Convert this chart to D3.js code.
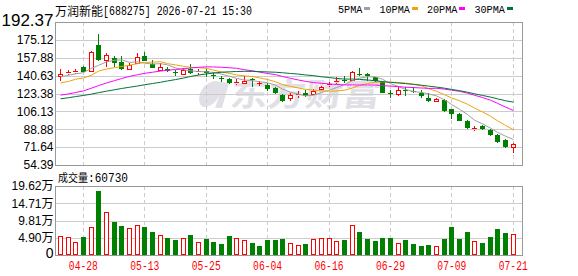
<!DOCTYPE html>
<html>
<head>
<meta charset="utf-8">
<script src="https://cdn.jsdelivr.net/npm/d3@7"></script>
<style>
  body { margin: 0; background: #fff; }
  svg { display: block; }
</style>
</head>
<body>
<div id="chart"></div>
<script>
const width = 578
const height = 276

// --- Data ---
const stockName = "万润新能"
const stockInfo = "[688275] 2026-07-21 15:30"
const volumeLabel = "成交量"
const lastVolume = "60730"

const dates = ["04-23","04-24","04-27","04-28","04-29","04-30","05-06","05-07","05-08","05-11",
  "05-12","05-13","05-14","05-15","05-18","05-19","05-20","05-21","05-22","05-25",
  "05-26","05-27","05-28","05-29","06-01","06-02","06-03","06-04","06-05","06-08",
  "06-09","06-10","06-11","06-12","06-15","06-16","06-17","06-18","06-22","06-23",
  "06-24","06-25","06-26","06-29","06-30","07-01","07-02","07-03","07-06","07-07",
  "07-08","07-09","07-10","07-13","07-14","07-15","07-16","07-17","07-20","07-21"]

const opens = [140.0,143.6,144.6,148.9,144.8,170.3,156.0,157.2,153.7,147.3,
  153.1,159.8,151.8,146.4,147.0,144.0,142.2,146.7,144.6,145.4,
  141.6,138.4,137.8,133.6,133.6,137.4,133.6,132.0,128.8,121.5,
  119.5,122.1,123.4,123.1,127.8,131.7,134.2,136.5,136.8,142.2,
  142.5,139.0,134.9,124.3,123.1,127.2,125.6,123.7,118.9,116.0,
  116.7,108.0,103.3,96.6,89.5,92.1,88.6,83.1,78.3,71.9]
const highs = [146.7,146.1,147.0,149.6,164.6,180.6,162.4,159.8,159.8,152.5,
  162.4,163.9,155.6,152.5,149.2,146.1,147.7,151.8,146.7,147.3,
  143.8,140.6,138.4,137.4,140.0,138.1,135.8,133.6,129.8,122.7,
  124.0,125.6,126.9,127.8,130.7,134.9,139.7,140.3,145.4,147.7,
  143.2,139.7,135.8,126.9,129.4,129.4,130.1,126.3,123.7,118.9,
  118.3,108.7,104.9,98.2,91.8,92.7,89.5,84.4,79.3,75.5]
const lows = [135.2,141.3,142.2,143.8,143.8,154.4,148.6,148.6,146.1,146.7,
  152.5,154.4,147.7,145.4,144.2,140.3,141.6,142.2,141.0,139.7,
  137.4,134.9,133.0,132.0,132.6,130.1,131.0,125.9,122.7,115.1,
  115.7,118.6,119.9,121.8,126.3,129.4,132.6,133.6,136.5,140.6,
  135.8,134.6,123.4,119.2,120.8,120.8,123.7,119.2,115.4,115.1,
  105.5,99.1,96.6,88.9,87.0,87.9,82.2,76.1,70.7,66.2]
const closes = [142.2,143.9,144.9,144.5,163.6,155.6,160.8,152.8,146.7,150.9,
  158.2,155.0,148.3,148.6,144.8,143.8,146.4,142.9,144.9,143.5,
  140.7,137.8,133.3,134.6,135.8,136.8,133.6,127.8,123.4,116.4,
  122.1,123.1,120.8,125.9,130.1,132.9,135.8,135.5,144.5,141.6,
  140.0,135.2,124.0,123.7,127.2,126.3,125.0,120.5,116.0,117.9,
  106.4,103.6,97.2,90.2,90.5,88.9,83.1,76.7,71.6,74.5]
// volume in 万 (10k)
const volumes = [5.31,5.02,3.70,5.12,7.96,18.2,12.23,9.38,8.25,7.58,
  8.44,7.96,6.54,5.59,4.83,4.27,4.74,5.69,3.70,4.55,
  3.70,3.13,5.40,4.74,4.27,3.41,2.56,4.27,4.27,4.55,
  3.41,2.75,3.13,4.45,4.74,4.74,3.98,4.27,8.44,6.54,
  4.55,3.98,4.83,4.74,3.32,4.27,3.13,2.56,2.84,2.46,
  4.55,7.96,4.55,6.54,3.98,3.41,5.12,7.39,6.26,6.073]

const ma5 = [139.5,141.0,142.3,143.5,147.8,150.5,153.9,155.5,155.9,153.4,
  153.9,152.7,151.8,152.2,151.0,148.1,146.4,145.3,144.6,144.3,
  143.7,142.0,140.0,138.0,136.4,135.7,134.8,133.7,131.5,127.6,
  124.7,122.6,121.2,121.7,124.4,126.6,129.1,132.0,135.8,138.1,
  139.5,139.4,137.1,132.9,130.0,127.3,125.2,124.5,123.0,121.1,
  117.2,112.9,108.2,103.1,97.6,94.1,90.0,85.9,82.2,79.0]
const ma10 = [133.6,135.0,137.1,138.4,141.0,145.0,147.0,148.3,149.4,150.6,
  152.2,153.3,153.6,154.1,152.2,151.0,149.6,148.6,148.4,147.6,
  145.9,144.2,142.7,141.3,140.4,139.7,138.4,136.9,134.7,132.0,
  130.2,128.7,127.4,126.6,126.0,125.6,125.8,126.6,128.7,131.2,
  133.0,134.2,134.6,134.3,134.0,133.4,132.3,130.8,128.0,125.6,
  122.2,119.1,116.4,113.0,109.4,105.6,101.4,97.1,92.6,88.3]
const ma20 = [121.8,123.0,124.3,125.9,128.5,131.0,133.5,135.8,137.8,139.9,
  141.5,142.8,143.9,145.0,145.8,146.5,147.3,148.0,148.6,149.1,
  149.0,148.7,148.2,147.7,146.3,145.3,144.0,142.7,141.6,139.8,
  138.0,136.4,135.1,133.9,133.2,132.6,132.1,131.7,131.7,131.6,
  131.6,131.5,131.0,130.5,130.0,129.5,129.1,128.7,128.3,128.4,
  127.6,126.6,125.5,123.7,121.7,119.5,116.9,113.9,110.3,106.9]
const ma30 = [118.3,119.3,120.4,121.5,122.8,124.2,125.6,127.0,128.2,129.4,
  130.6,131.8,133.0,134.2,135.5,136.8,138.3,139.8,141.2,142.3,
  143.1,143.9,144.3,144.6,144.8,144.7,144.5,144.2,143.9,143.4,
  142.7,142.1,141.3,140.6,139.5,138.8,137.9,137.3,137.3,137.0,
  136.4,135.7,134.9,134.1,133.5,132.9,132.2,131.4,130.5,129.6,
  128.5,127.3,126.1,124.6,123.1,121.5,119.9,118.2,116.4,115.0]

const priceTicks = [54.39,71.64,88.88,106.13,123.38,140.63,157.88,175.12,192.37]
const volTicks = [0,4.90,9.81,14.71,19.62]
const xTickDates = ["04-28","05-13","05-25","06-04","06-16","06-29","07-09","07-21"]
const maNames = ["5PMA","10PMA","20PMA","30PMA"]
const maSeries = [ma5, ma10, ma20, ma30]

// --- Styles ---
const maColors = ["#a0a0a0","#f2a20c","#ff00ff","#00733a"]
const upColor = "#ff0000"
const downColor = "#008000"
const gridColor = "#cccccc"
const frameColor = "#999999"
const monoFont = "'Liberation Mono', 'DejaVu Sans Mono', monospace"
const labelFont = "'Liberation Sans', 'Noto Sans CJK SC', sans-serif"

// --- Layout ---
const left = 55.5, right = 522.5
const priceTop = 22, priceBottom = 165
const volTop = 186, volBottom = 255

const svg = d3.select("#chart")
  .append("svg")
    .attr("width", width)
    .attr("height", height)

// Scales
const x = d3.scaleBand()
  .domain(d3.range(dates.length))
  .range([56.5, 517.1])

const yPrice = d3.scaleLinear()
  .domain([priceTicks[0], priceTicks[priceTicks.length - 1]])
  .range([priceBottom, priceTop])

const yVol = d3.scaleLinear()
  .domain([0, volTicks[volTicks.length - 1]])
  .range([volBottom, volTop])

const bodyLeft = i => Math.round(x(i) + x.bandwidth() / 2 - 2.5)
const centerX = i => bodyLeft(i) + 2.5
const tickIdx = xTickDates.map(d => dates.indexOf(d))

// Watermark
const wm = svg.append("g").attr("fill", "#e0e0e6")
wm.append("path")
  .attr("d", "M215,81 C203,83 197,95 200,104 C203,110 213,106 218,98 L221,91 L215,108 L222,108 L229,83 Z")
wm.append("text")
  .attr("x", 229).attr("y", 106)
  .attr("font-family", "'Noto Sans CJK SC', sans-serif")
  .attr("font-weight", "bold")
  .attr("font-size", 32)
  .attr("textLength", 150)
  .attr("lengthAdjust", "spacingAndGlyphs")
  .attr("transform", "skewX(-8) translate(15,0)")
  .text("东方财富")

// Grids (horizontal)
const drawHGrid = (scale, ticks) => {
  svg.append("g")
    .selectAll("line")
    .data(ticks.slice(1, -1))
    .join("line")
      .attr("x1", left).attr("x2", right)
      .attr("y1", d => Math.round(scale(d)) + 0.5)
      .attr("y2", d => Math.round(scale(d)) + 0.5)
      .attr("stroke", gridColor)
}
drawHGrid(yPrice, priceTicks)
drawHGrid(yVol, volTicks)

// Grids (vertical, dashed)
const drawVGrid = (top, bottom) => {
  svg.append("g")
    .selectAll("line")
    .data(tickIdx)
    .join("line")
      .attr("x1", i => centerX(i)).attr("x2", i => centerX(i))
      .attr("y1", top).attr("y2", bottom)
      .attr("stroke", gridColor)
      .attr("stroke-dasharray", "4,3")
}
drawVGrid(priceTop, priceBottom)
drawVGrid(volTop, volBottom)

// Frames
svg.append("rect")
  .attr("x", left).attr("y", priceTop + 0.5)
  .attr("width", right - left).attr("height", priceBottom - priceTop)
  .attr("fill", "none").attr("stroke", frameColor)
svg.append("rect")
  .attr("x", left).attr("y", volTop + 0.5)
  .attr("width", right - left).attr("height", volBottom - volTop)
  .attr("fill", "none").attr("stroke", frameColor)

// Candles
const candles = svg.append("g")
dates.forEach((d, i) => {
  const o = opens[i], c = closes[i], h = highs[i], l = lows[i]
  const L = bodyLeft(i)
  const wx = L + 2.5
  const yTop = Math.round(yPrice(Math.max(o, c)))
  const yBot = Math.round(yPrice(Math.min(o, c)))
  const yH = Math.round(yPrice(h))
  const yL = Math.round(yPrice(l))
  const up = c >= o
  const col = up ? upColor : downColor
  if (up) {
    candles.append("line").attr("x1", wx).attr("x2", wx)
      .attr("y1", yH).attr("y2", yTop).attr("stroke", col)
    candles.append("line").attr("x1", wx).attr("x2", wx)
      .attr("y1", yBot + 1).attr("y2", yL).attr("stroke", col)
    if (yBot - yTop < 2) {
      candles.append("rect").attr("x", L).attr("y", yTop)
        .attr("width", 5).attr("height", Math.max(yBot - yTop, 1)).attr("fill", col)
    } else {
      candles.append("rect").attr("x", L + 0.5).attr("y", yTop + 0.5)
        .attr("width", 4).attr("height", yBot - yTop)
        .attr("fill", "#fff").attr("stroke", col)
    }
  } else {
    candles.append("line").attr("x1", wx).attr("x2", wx)
      .attr("y1", yH).attr("y2", yL).attr("stroke", col)
    candles.append("rect").attr("x", L).attr("y", yTop)
      .attr("width", 5).attr("height", Math.max(yBot - yTop, 1)).attr("fill", col)
  }
})

// Moving averages
maSeries.forEach((s, k) => {
  svg.append("path")
    .datum(s)
    .attr("fill", "none")
    .attr("stroke", maColors[k])
    .attr("stroke-width", 1)
    .attr("d", d3.line()
      .x((d, i) => centerX(i))
      .y(d => yPrice(d)))
})

// Volume bars
const volColor = i => {
  if (closes[i] > opens[i]) return upColor
  if (closes[i] < opens[i]) return downColor
  return (i > 0 && closes[i] < closes[i - 1]) ? downColor : upColor
}
svg.append("g")
  .selectAll("rect")
  .data(volumes)
  .join("rect")
    .attr("x", (v, i) => volColor(i) === upColor ? bodyLeft(i) + 0.5 : bodyLeft(i))
    .attr("y", (v, i) => Math.round(yVol(v)) + (volColor(i) === upColor ? 0.5 : 0))
    .attr("width", (v, i) => volColor(i) === upColor ? 4 : 5)
    .attr("height", (v, i) => volBottom - Math.round(yVol(v)) - (volColor(i) === upColor ? 1 : 0))
    .attr("fill", (v, i) => volColor(i) === upColor ? "#fff" : downColor)
    .attr("stroke", (v, i) => volColor(i) === upColor ? upColor : "none")

// Price axis labels
const priceAxis = svg.append("g")
  .attr("transform", `translate(${left},0)`)
  .call(d3.axisLeft(yPrice).tickValues(priceTicks).tickFormat(d3.format(".2f")).tickSize(0).tickPadding(2))
priceAxis.select(".domain").remove()
priceAxis.selectAll("text")
  .attr("font-family", labelFont).attr("font-size", 12).attr("fill", "#000")
priceAxis.selectAll(".tick:last-of-type text")
  .attr("font-size", 17).attr("dy", "0.18em")

// Volume axis labels
const volAxis = svg.append("g")
  .attr("transform", `translate(${left},0)`)
  .call(d3.axisLeft(yVol).tickValues(volTicks)
    .tickFormat(d => d === 0 ? "0" : d3.format(".2f")(d) + "万").tickSize(0).tickPadding(2))
volAxis.select(".domain").remove()
volAxis.selectAll("text")
  .attr("font-family", labelFont).attr("font-size", 12).attr("fill", "#000")
volAxis.selectAll(".tick:first-of-type text").attr("font-size", 14).attr("dy", "0.2em")

// Date axis
const dateAxis = svg.append("g")
  .attr("transform", `translate(0,${volBottom})`)
  .call(d3.axisBottom(x).tickValues(tickIdx).tickFormat(i => dates[i]).tickSize(0).tickPadding(6))
dateAxis.select(".domain").remove()
dateAxis.selectAll("text")
  .attr("font-family", monoFont).attr("font-size", 12).attr("fill", upColor)
  .attr("textLength", 29).attr("lengthAdjust", "spacingAndGlyphs")

// Title
svg.append("text")
  .attr("x", 55).attr("y", 15.5)
  .attr("font-family", "'Noto Sans CJK SC', sans-serif").attr("font-size", 12)
  .attr("textLength", 48).attr("lengthAdjust", "spacingAndGlyphs")
  .text(stockName)
svg.append("text")
  .attr("x", 103).attr("y", 15)
  .attr("font-family", monoFont).attr("font-size", 12)
  .attr("textLength", 149).attr("lengthAdjust", "spacingAndGlyphs")
  .text(stockInfo)

// Legend
let lx = 338
maNames.forEach((name, k) => {
  const w = name.length * 6.1
  svg.append("text")
    .attr("x", lx).attr("y", 12.5)
    .attr("font-family", monoFont).attr("font-size", 11)
    .attr("textLength", w).attr("lengthAdjust", "spacingAndGlyphs")
    .text(name)
  svg.append("rect")
    .attr("x", Math.round(lx + w + 2)).attr("y", 7)
    .attr("width", 6).attr("height", 3)
    .attr("fill", maColors[k])
  lx += w + 17
})

// Volume title
svg.append("text")
  .attr("x", 58).attr("y", 182)
  .attr("font-family", "'Noto Sans CJK SC', sans-serif").attr("font-size", 11)
  .attr("textLength", 30).attr("lengthAdjust", "spacingAndGlyphs")
  .text(volumeLabel)
svg.append("text")
  .attr("x", 88).attr("y", 182)
  .attr("font-family", monoFont).attr("font-size", 12)
  .attr("textLength", 40).attr("lengthAdjust", "spacingAndGlyphs")
  .text(":" + lastVolume)
</script>
</body>
</html>
